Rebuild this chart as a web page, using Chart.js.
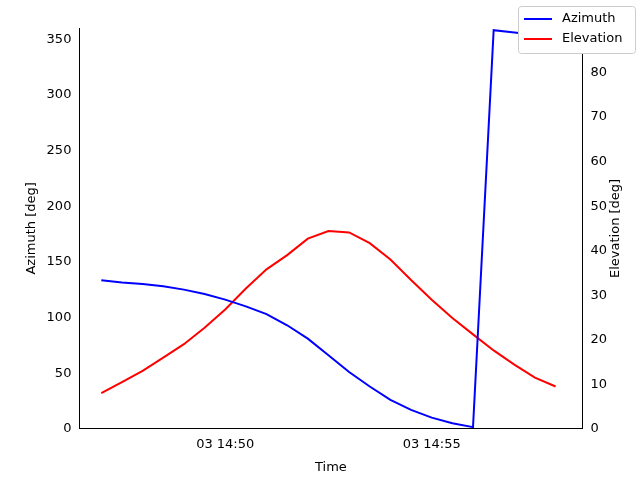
<!DOCTYPE html>
<html>
<head>
<meta charset="UTF-8" />
<script src="https://cdn.jsdelivr.net/npm/chart.js@4/dist/chart.umd.min.js"></script>
<style>
  body { margin: 0; background: #fff; }
  #wrap { width: 640px; height: 480px; }
</style>
</head>
<body>
<div id="wrap"><canvas id="c"></canvas></div>
<script>
// minutes after 14:00 on day 03, every 30 s
const times = [47, 47.5, 48, 48.5, 49, 49.5, 50, 50.5, 51, 51.5, 52, 52.5, 53, 53.5, 54, 54.5, 55, 55.5, 56, 56.5, 57, 57.5, 58];
const azimuth = [133.5, 131.5, 130, 128, 125, 121, 116, 110, 103, 93, 81, 66, 51, 38, 26, 17, 10, 5, 1.5, 358, 356, 354, 352];
const elevation = [8, 10.5, 13, 16, 19, 22.7, 26.8, 31.5, 35.8, 39, 42.7, 44.4, 44.1, 41.7, 38, 33.4, 29, 24.9, 21.2, 17.6, 14.4, 11.5, 9.5];
const xTicks = [50, 55];
const azTicks = [0, 50, 100, 150, 200, 250, 300, 350];

const font = { family: "DejaVu Sans", size: 13 };
Chart.defaults.font = font;
Chart.defaults.color = "#000";

// matplotlib-style legend box in the figure corner + right axis title
const extras = {
  id: "extras",
  afterDraw(chart) {
    const ctx = chart.ctx;
    ctx.save();
    ctx.fillStyle = "#fff";
    ctx.strokeStyle = "#ccc";
    ctx.lineWidth = 1;
    ctx.beginPath();
    ctx.roundRect(518.5, 6.5, 117, 47, 3);
    ctx.fill();
    ctx.stroke();
    ctx.font = "13px DejaVu Sans";
    ctx.textBaseline = "middle";
    chart.data.datasets.forEach((ds, i) => {
      const y = 19 + i * 20;
      ctx.strokeStyle = ds.borderColor;
      ctx.lineWidth = 2;
      ctx.beginPath();
      ctx.moveTo(524, y);
      ctx.lineTo(552, y);
      ctx.stroke();
      ctx.fillStyle = "#000";
      ctx.fillText(ds.label, 562, y);
    });
    const a = chart.chartArea;
    ctx.translate(616, (a.top + a.bottom) / 2);
    ctx.rotate(-Math.PI / 2);
    ctx.textAlign = "center";
    ctx.fillText("Elevation [deg]", 0, 0);
    ctx.restore();
  },
};

new Chart(document.getElementById("c"), {
  type: "line",
  data: {
    datasets: [
      { label: "Azimuth", data: times.map((t, i) => ({ x: t, y: azimuth[i] })), borderColor: "#0000ff", backgroundColor: "#0000ff", yAxisID: "y", borderWidth: 2, pointRadius: 0 },
      { label: "Elevation", data: times.map((t, i) => ({ x: t, y: elevation[i] })), borderColor: "#ff0000", backgroundColor: "#ff0000", yAxisID: "y2", borderWidth: 2, pointRadius: 0 },
    ],
  },
  plugins: [extras],
  options: {
    responsive: true,
    maintainAspectRatio: false,
    animation: false,
    layout: { padding: { left: 20, right: 30, top: 28, bottom: 1 } },
    plugins: {
      legend: { display: false },
      tooltip: { enabled: false },
    },
    scales: {
      x: {
        type: "linear",
        min: 46.47,
        max: 58.65,
        afterBuildTicks: (s) => { s.ticks = xTicks.map((v) => ({ value: v })); },
        ticks: { callback: (v) => "03 14:" + v, maxRotation: 0 },
        grid: { display: false, drawTicks: true, tickColor: "#000", tickLength: 5 },
        border: { color: "#000" },
        title: { display: true, text: "Time", font: font },
      },
      y: {
        position: "left",
        min: 0,
        max: 360,
        afterBuildTicks: (s) => { s.ticks = azTicks.map((v) => ({ value: v })); },
        grid: { display: false, drawTicks: true, tickColor: "#000", tickLength: 5 },
        border: { color: "#000" },
        title: { display: true, text: "Azimuth [deg]", font: font },
      },
      y2: {
        position: "right",
        min: 0,
        max: 90,
        ticks: { stepSize: 10 },
        grid: { display: false, drawTicks: true, tickColor: "#000", tickLength: 5 },
        border: { color: "#000" },
      },
    },
  },
});
</script>
</body>
</html>
